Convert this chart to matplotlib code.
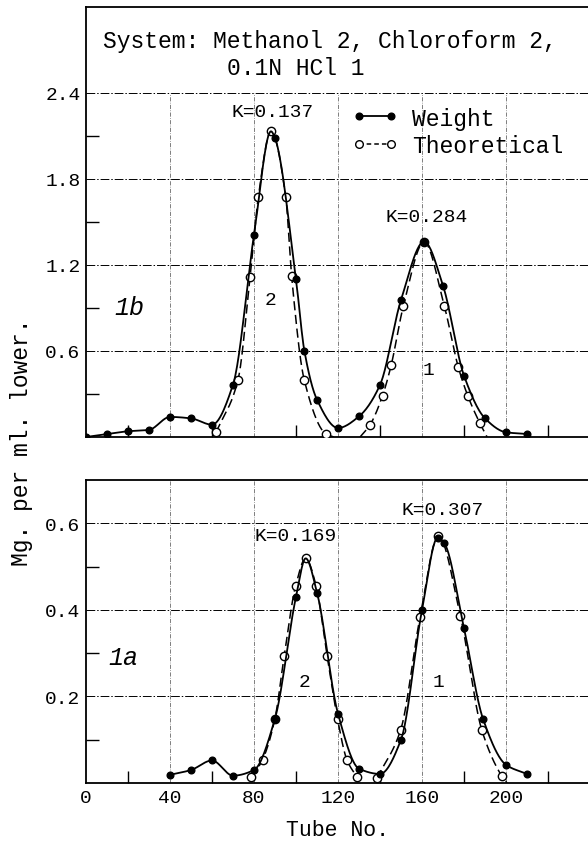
import numpy as np
import matplotlib
matplotlib.use("Agg")
import matplotlib.pyplot as plt
from matplotlib.lines import Line2D

# ---- data ----
# panel 1b (top)
b_weight_x = [0, 10, 20, 30, 40, 50, 60, 70, 80, 90, 100, 104, 110, 120, 130, 140, 150, 161, 170, 180, 190, 200, 210]
b_weight_y = [0.0, 0.02, 0.04, 0.05, 0.14, 0.13, 0.086, 0.365, 1.41, 2.084, 1.10, 0.60, 0.26, 0.063, 0.144, 0.363, 0.956,
              1.363, 1.056, 0.428, 0.130, 0.033, 0.021]
b_apex_x = [88.1]
b_apex_y = [2.133]
b_theo2_x = [62, 72.4, 78.1, 82.1, 88.1, 95.1, 97.9, 103.9, 114.3, 118]
b_theo2_y = [0.033, 0.40, 1.114, 1.677, 2.133, 1.677, 1.125, 0.40, 0.021, 0.0]
b_theo1_x = [130.5, 135.3, 141.2, 145.3, 151.1, 161, 170.6, 177.3, 181.9, 187.6, 191]
b_theo1_y = [0.0, 0.086, 0.288, 0.50, 0.912, 1.36, 0.916, 0.486, 0.284, 0.095, 0.0]

# panel 1a (bottom)
a_weight_x = [40, 50, 60, 70, 80, 90, 100, 110, 120, 130, 140, 150, 160, 167.5, 170.6, 180, 189, 200, 210]
a_weight_y = [0.019, 0.030, 0.052, 0.017, 0.030, 0.149, 0.43, 0.44, 0.160, 0.033, 0.021, 0.10, 0.40, 0.567,
              0.554, 0.358, 0.149, 0.042, 0.021]
a_apex_x = [104.6]
a_apex_y = [0.519]
a_theo2_x = [78.7, 84.1, 89.9, 94.4, 99.8, 104.6, 109.6, 114.8, 119.8, 124.2, 129.1]
a_theo2_y = [0.013, 0.054, 0.147, 0.294, 0.455, 0.519, 0.455, 0.294, 0.147, 0.054, 0.013]
a_theo1_x = [138.5, 149.8, 159.1, 167.8, 178.3, 188.5, 198, 200.5]
a_theo1_y = [0.011, 0.122, 0.384, 0.57, 0.385, 0.122, 0.016, 0.0]

x_ticks = [0, 40, 80, 120, 160, 200]
b_yticks = [0.6, 1.2, 1.8, 2.4]
a_yticks = [0.2, 0.4, 0.6]

FONT = "Liberation Mono"


def pchip(x, y, n=500):
    # monotone cubic through the points, just for drawing smooth curves
    x = np.asarray(x, float)
    y = np.asarray(y, float)
    h = np.diff(x)
    d = np.diff(y) / h
    m = np.zeros_like(y)
    for k in range(1, len(x) - 1):
        if d[k - 1] * d[k] > 0:
            w1 = 2 * h[k] + h[k - 1]
            w2 = h[k] + 2 * h[k - 1]
            m[k] = (w1 + w2) / (w1 / d[k - 1] + w2 / d[k])
    m[0], m[-1] = d[0], d[-1]
    xs = np.linspace(x[0], x[-1], n)
    i = np.clip(np.searchsorted(x, xs) - 1, 0, len(h) - 1)
    t = (xs - x[i]) / h[i]
    ys = ((2 * t**3 - 3 * t**2 + 1) * y[i] + (t**3 - 2 * t**2 + t) * h[i] * m[i]
          + (-2 * t**3 + 3 * t**2) * y[i + 1] + (t**3 - t**2) * h[i] * m[i + 1])
    return xs, ys


def merged(x1, y1, x2, y2):
    pts = sorted(zip(list(x1) + list(x2), list(y1) + list(y2)))
    return [p[0] for p in pts], [p[1] for p in pts]


def style_axes(ax, ymax, yticks, yminor, grid_top):
    ax.set_xlim(0, 240)
    ax.set_ylim(0, ymax)
    for s in ["left", "bottom", "top"]:
        ax.spines[s].set_linewidth(1.3)
    ax.spines["right"].set_visible(False)
    ax.set_xticks(x_ticks)
    ax.set_xticks([20, 60, 100, 140, 180, 220], minor=True)
    ax.set_yticks(yticks)
    ax.set_yticks(yminor, minor=True)
    ax.tick_params(which="major", length=0, pad=4, labelsize=14)
    ax.tick_params(which="minor", direction="in", length=9, width=1.0)
    for lab in ax.get_xticklabels() + ax.get_yticklabels():
        lab.set_fontfamily(FONT)
    # hand-style dash-dot grid
    for v in yticks:
        ax.axhline(v, color="black", lw=0.7, dashes=(9, 2, 1.5, 2), zorder=1)
    for v in x_ticks[1:]:
        ax.plot([v, v], [0, grid_top], color="black", lw=0.5, dashes=(6, 2, 1, 2), alpha=0.7, zorder=1)


def draw_panel(ax, wx, wy, apx, apy, theo):
    for tx, ty in theo:
        cx, cy = pchip(tx, ty)
        ax.plot(cx, cy, color="black", lw=1.1, dashes=(6, 3), zorder=3)
        px = [a for a, b in zip(tx, ty) if b > 0]
        py = [b for b in ty if b > 0]
        ax.plot(px, py, "o", ms=6, mfc="white", mec="black", mew=1.0, zorder=4)
    lx, ly = merged(wx, wy, apx, apy)
    cx, cy = pchip(lx, ly)
    ax.plot(cx, cy, color="black", lw=1.3, zorder=5)
    ax.plot(wx, wy, "o", ms=4.8, color="black", zorder=6)


fig = plt.figure(figsize=(5.88, 8.45), dpi=100)
ax_b = fig.add_axes([86 / 588, 1 - 438 / 845, 504 / 588, 430 / 845])
ax_a = fig.add_axes([86 / 588, 1 - 784 / 845, 504 / 588, 303 / 845])

# ---- top panel 1b ----
style_axes(ax_b, 3.0, b_yticks, [0.3, 0.9, 1.5, 2.1], 2.4)
ax_b.set_xticklabels([])
draw_panel(ax_b, b_weight_x, b_weight_y, b_apex_x, b_apex_y,
           [(b_theo2_x, b_theo2_y), (b_theo1_x, b_theo1_y)])

ax_b.text(0.034, 0.921, "System: Methanol 2, Chloroform 2,", transform=ax_b.transAxes,
          family=FONT, fontsize=16.6, va="center", ha="left")
ax_b.text(0.28, 0.860, "0.1N HCl 1", transform=ax_b.transAxes,
          family=FONT, fontsize=16.6, va="center", ha="left")
ax_b.text(89, 2.27, "K=0.137", family=FONT, fontsize=14, ha="center", va="center")
ax_b.text(162, 1.535, "K=0.284", family=FONT, fontsize=14, ha="center", va="center")
ax_b.text(20.5, 0.91, "1b", family=FONT, style="italic", fontsize=18, ha="center", va="center")
ax_b.text(88, 0.96, "2", family=FONT, fontsize=14, ha="center", va="center")
ax_b.text(163, 0.47, "1", family=FONT, fontsize=14, ha="center", va="center")

handles = [
    Line2D([], [], color="black", lw=1.3, marker="o", ms=4.8),
    Line2D([], [], color="black", lw=1.1, dashes=(3, 2), marker="o", ms=5.5, mfc="white", mec="black"),
]
ax_b.legend(handles, ["Weight", "Theoretical"], loc="upper left", bbox_to_anchor=(0.51, 0.79),
            frameon=False, handlelength=2.0, numpoints=2, handletextpad=0.6, labelspacing=0.2,
            prop={"family": FONT, "size": 16.6}, borderaxespad=0)

# ---- bottom panel 1a ----
style_axes(ax_a, 0.7, a_yticks, [0.1, 0.3, 0.5], 0.7)
draw_panel(ax_a, a_weight_x, a_weight_y, a_apex_x, a_apex_y,
           [(a_theo2_x, a_theo2_y), (a_theo1_x, a_theo1_y)])
ax_a.text(100, 0.572, "K=0.169", family=FONT, fontsize=14, ha="center", va="center")
ax_a.text(170, 0.633, "K=0.307", family=FONT, fontsize=14, ha="center", va="center")
ax_a.text(18, 0.29, "1a", family=FONT, style="italic", fontsize=18, ha="center", va="center")
ax_a.text(104, 0.235, "2", family=FONT, fontsize=14, ha="center", va="center")
ax_a.text(168, 0.235, "1", family=FONT, fontsize=14, ha="center", va="center")
ax_a.set_xlabel("Tube No.", family=FONT, fontsize=15.5, labelpad=10)

fig.text(22 / 588, 1 - 442 / 845, "Mg. per ml. lower.", rotation=90, family=FONT,
         fontsize=16.6, ha="center", va="center")

fig.savefig("out.png", dpi=100)
